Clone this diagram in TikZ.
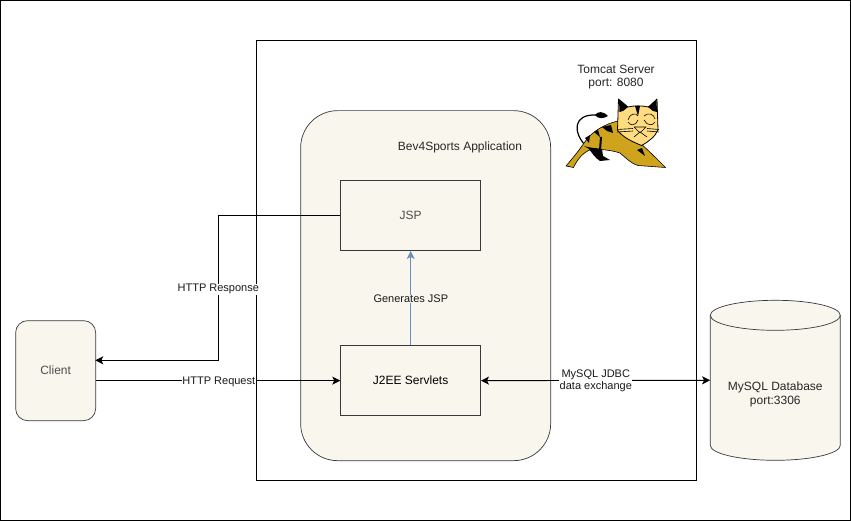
\documentclass[tikz,border=0pt]{standalone}
\usepackage{fontspec}
\setmainfont{Liberation Sans}
\usetikzlibrary{arrows.meta}
\definecolor{boxfill}{HTML}{F9F7ED}
\definecolor{boxline}{HTML}{36393D}
\definecolor{bluearrow}{HTML}{6C8EBF}
\definecolor{catgold}{HTML}{CFA31B}
\definecolor{cathead}{HTML}{FFDC80}
\tikzset{
  txt/.style={font=\fontsize{12}{14}\selectfont,text=black!85,align=center},
  grey/.style={font=\fontsize{12}{14}\selectfont,text=black!70,align=center},
  small/.style={font=\fontsize{11}{13}\selectfont,text=black!90,align=center},
  frame/.style={draw=black,fill=white,line width=0.8pt},
  panel/.style={draw=boxline,fill=boxfill,line width=0.7pt,rounded corners=#1},
  inner/.style={draw=boxline,fill=boxfill,line width=0.7pt,minimum width=140pt,minimum height=70pt,inner sep=0},
  conn/.style={draw=black,line width=0.9pt,-{Stealth[length=8pt,width=8pt,inset=2pt]}},
  both/.style={draw=black,line width=0.9pt,{Stealth[length=8pt,width=8pt,inset=2pt]}-{Stealth[length=8pt,width=8pt,inset=2pt]}},
  lab/.style={small,fill=white,inner sep=0.6pt}
}
\begin{document}
\begin{tikzpicture}[x=1pt,y=-1pt]
\useasboundingbox (0,0) rectangle (851,521);
\draw[frame] (0.5,0.5) rectangle (850.5,520.5);
\begin{scope}[shift={(-0.7,-0.7)}]
\node[frame,minimum width=440pt,minimum height=440pt,inner sep=0,anchor=north west] (tomcat) at (256.5,41) {};
\node[panel=37pt,minimum width=250pt,minimum height=350pt,inner sep=0,anchor=north west] (app) at (301,111) {};
\node[txt] (tomcatlabel) at (616.7,78) {Tomcat Server\\[-0.5pt]port: 8080};
\node[txt] (applabel) at (460.7,148) {Bev4Sports Application};
\node[inner,anchor=north west,grey] (jsp) at (341,181) {JSP};
\node[inner,anchor=north west,txt,text=black] (j2ee) at (341,346) {\raisebox{-1pt}{J2EE Servlets}};
\node[panel=12pt,minimum width=80pt,minimum height=100pt,inner sep=0,anchor=north west,grey] (client) at (16,321) {\raisebox{-1pt}{Client}};
% database cylinder
\draw[panel=0pt] (711,316) arc[x radius=65,y radius=15,start angle=180,end angle=360] -- (841,446)
  arc[x radius=65,y radius=15,start angle=0,end angle=180] -- cycle;
\draw[draw=boxline,line width=0.7pt] (711,316) arc[x radius=65,y radius=15,start angle=180,end angle=0];
\node[minimum width=130pt,minimum height=160pt,inner sep=0] (db) at (776,381) {};
\node[txt] (dblabel) at (776,395) {MySQL Database\\[0.5pt]port:3306};
\coordinate (clientin) at (96,361);
% connectors
\draw[conn] (jsp.west) -| (219,361) -- (clientin);
\draw[conn] (j2ee.west -| client.east) -- (j2ee.west);
\draw[conn,draw=bluearrow] (j2ee.north) -- (jsp.south);
\draw[both] (j2ee.east) -- (db.west);
\node[lab] (resp) at (219,290) {HTTP Response};
\node[lab] (req) at (219.5,382.5) {HTTP Request};
\node[lab,fill=boxfill] (gen) at (411.5,299.7) {Generates JSP};
\node[lab] (jdbc) at (596.5,381.5) {MySQL JDBC\\[-0.5pt]data exchange};
\end{scope}
% Tomcat logo
\begin{scope}[line width=0.6pt,line join=round]
  % tail
  \draw[black,line width=1.2pt] (585,145) .. controls (573,132) and (573,114) .. (596,115);
  \fill[black] (595,115) .. controls (598,111) and (603,111) .. (608,116) .. controls (603,119) and (598,119) .. cycle;
  % body
  \filldraw[fill=catgold,draw=black] (618,121) .. controls (605,124) and (592,131) .. (584,143)
    .. controls (578,152) and (571,160) .. (566,166) -- (573.5,167.5) .. controls (578,158) and (584,152) .. (591,149.5)
    -- (600,149.5) .. controls (608,150) and (614,151) .. (620,153) .. controls (627,159) and (632,164) .. (638,165.5)
    -- (665.5,167.5) .. controls (658,160) and (648,150) .. (640,143) -- (620,132) -- cycle;
  % rear leg
  \fill[black] (584,146) .. controls (590,148) and (596,148) .. (602,149) -- (603,156) -- (610,160) -- (600,161)
    .. controls (595,158) and (592,153) .. (589,149) -- cycle;
  % stripes
  \fill[black] (602,127) -- (611,125) -- (613,133) -- (607,131) -- cycle;
  \fill[black] (594,132) -- (598,130) -- (600,137) -- cycle;
  \fill[black] (585,138) -- (590,135) -- (589,143) -- cycle;
  \fill[black] (600,137) -- (602,137) -- (601,150) -- (599,150) -- cycle;
  \fill[black] (637,150) -- (642,148) -- (645,156) -- cycle;
  % head
  \filldraw[fill=cathead,draw=black,line width=0.8pt] (618.5,99) -- (628,107) .. controls (634,105.5) and (642,105.5) .. (648.5,107)
    -- (657,99) -- (658,130) .. controls (655,137) and (648,142) .. (641.5,145.5)
    .. controls (633,142) and (622,137) .. (617.5,130) -- cycle;
  % ears
  \fill[black] (619,100) -- (628,107) -- (623,111) -- (619.5,112) -- cycle;
  \fill[black] (656.5,100) -- (648,107) -- (653,111) -- (657,112) -- cycle;
  % head stripes
  \fill[black] (635,106) -- (638,116) -- (640,106) -- cycle;
  % face
  \draw[black] (628,120) .. controls (629,114) and (636,112) .. (638,116);
  \draw[black] (644,116) .. controls (648,112) and (654,114) .. (655,119);
  \draw[black] (628,122) .. controls (630,126) and (636,126) .. (638,120);
  \draw[black] (644,120) .. controls (647,126) and (653,126) .. (655,122);
  \draw[black] (634,127) -- (646,127) -- (641,132) -- (639,132) -- cycle;
  \draw[black] (640,132) -- (634,137) (640,132) -- (647,137);
  \draw[black] (617,129.5) -- (633,128.5) (617,132) -- (633,131) (647,128.5) -- (659,129.5) (647,131) -- (659,132);
\end{scope}
\end{tikzpicture}
\end{document}
